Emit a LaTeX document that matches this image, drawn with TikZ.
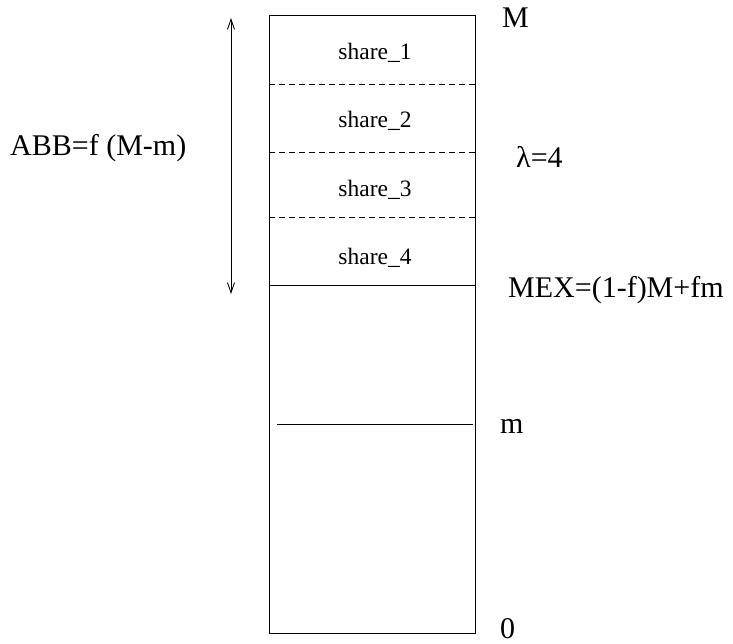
\documentclass[tikz,border=0pt]{standalone}
\usepackage{fontspec}
\setmainfont{Liberation Serif}
\usetikzlibrary{arrows.meta}
\begin{document}
\begin{tikzpicture}[x=1pt,y=-1pt,
  frame/.style={line width=1pt,draw=black},
  divider/.style={line width=0.8pt,dash pattern=on 6pt off 4pt},
  level/.style={line width=1pt},
  sharelbl/.style={anchor=base,inner sep=0pt,font=\fontsize{23.5}{25}\selectfont},
  sidelbl/.style={anchor=base west,inner sep=0pt,font=\fontsize{30}{32}\selectfont},
  span/.style={line width=0.9pt,{Straight Barb[length=10pt,width=7pt]}-{Straight Barb[length=10pt,width=7pt]}}]
  \useasboundingbox (0,0) rectangle (733,643);

  % the column and its partitions
  \draw[frame] (269,15) rectangle (475,633);
  \draw[divider] (269,84) -- (475,84);
  \draw[divider] (269,152) -- (475,152);
  \draw[divider] (269,217) -- (475,217);
  \draw[level] (269,285) -- (475,285);
  \draw[level] (277,424) -- (473,424);

  % share labels
  \node[sharelbl] (s1) at (375,59) {share\_1};
  \node[sharelbl] (s2) at (375,127) {share\_2};
  \node[sharelbl] (s3) at (375,196) {share\_3};
  \node[sharelbl] (s4) at (375,264) {share\_4};

  % levels on the right
  \node[sidelbl] (lM) at (502,27) {M};
  \node[sidelbl] (llam) at (516,167) {λ=4};
  \node[sidelbl] (lmex) at (508,297) {MEX=(1-f)M+fm};
  \node[sidelbl] (lm) at (500,433) {m};
  \node[sidelbl] (l0) at (500,638) {0};

  % extent of the top band
  \coordinate (atop) at (231,18);
  \coordinate (abot) at (231,294);
  \draw[span] (atop) -- (abot);
  \node[sidelbl] (labb) at (10,155) {ABB=f (M-m)};
\end{tikzpicture}
\end{document}
